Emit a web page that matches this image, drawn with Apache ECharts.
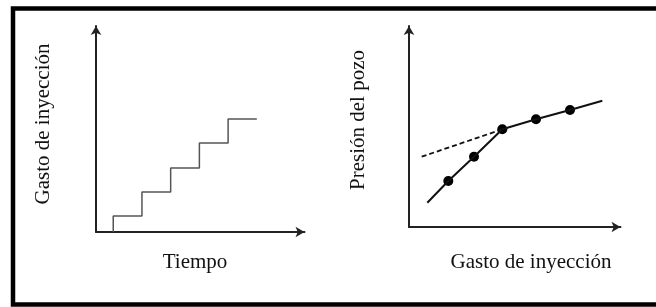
<!DOCTYPE html>
<html>
<head>
<meta charset="utf-8">
<script src="https://cdn.jsdelivr.net/npm/echarts@6/dist/echarts.min.js"></script>
<style>
html,body{margin:0;padding:0;background:#fff;}
#chart{width:656px;height:307px;}
</style>
</head>
<body>
<div id="chart"></div>
<script>
// Left panel: injection rate steps over time
const tiempo = [0.6, 1.6, 2.6, 3.6, 4.6, 5.6];
const gastoEscalon = [0, 0.66, 1.65, 2.63, 3.66, 4.65];
// Right panel: well pressure vs injection rate
const gastoLinea = [1.83, 3.93, 6.5, 9.33, 12.7, 16.1, 19.33];
const presionLinea = [2.43, 4.6, 7.03, 9.77, 10.77, 11.7, 12.63];
const gastoPuntos = [3.93, 6.5, 9.33, 12.7, 16.1];
const presionPuntos = [4.6, 7.03, 9.77, 10.77, 11.7];
const gastoExtrap = [1.27, 9.33];
const presionExtrap = [7.03, 9.77];
// Labels
const labels = {
  leftY: 'Gasto de inyección',
  leftX: 'Tiempo',
  rightY: 'Presión del pozo',
  rightX: 'Gasto de inyección'
};

const zip = (a, b) => a.map((v, i) => [v, b[i]]);
const font = '"Liberation Serif", "Times New Roman", serif';

const axisCommon = {
  type: 'value',
  axisLine: { show: true, symbol: ['none', 'arrow'], symbolSize: [8, 9], lineStyle: { color: '#222', width: 2 } },
  axisTick: { show: false },
  axisLabel: { show: false },
  splitLine: { show: false }
};

const chart = echarts.init(document.getElementById('chart'));
chart.setOption({
  animation: false,
  backgroundColor: '#fff',
  grid: [
    { left: 96, top: 26, width: 208.5, height: 206 },
    { left: 409, top: 26, width: 211.5, height: 201 }
  ],
  xAxis: [
    Object.assign({ gridIndex: 0, min: 0, max: 7.26 }, axisCommon),
    Object.assign({ gridIndex: 1, min: 0, max: 21.15 }, axisCommon)
  ],
  yAxis: [
    Object.assign({ gridIndex: 0, min: 0, max: 8.48 }, axisCommon),
    Object.assign({ gridIndex: 1, min: 0, max: 20.1 }, axisCommon)
  ],
  series: [
    {
      type: 'line', xAxisIndex: 0, yAxisIndex: 0, step: 'start',
      data: zip(tiempo, gastoEscalon), showSymbol: false,
      lineStyle: { color: '#555', width: 1.5 }
    },
    {
      type: 'line', xAxisIndex: 1, yAxisIndex: 1,
      data: zip(gastoExtrap, presionExtrap), showSymbol: false,
      lineStyle: { color: '#111', width: 1.8, type: [5, 3] }
    },
    {
      type: 'line', xAxisIndex: 1, yAxisIndex: 1,
      data: zip(gastoLinea, presionLinea), showSymbol: false,
      lineStyle: { color: '#111', width: 2 }
    },
    {
      type: 'scatter', xAxisIndex: 1, yAxisIndex: 1,
      data: zip(gastoPuntos, presionPuntos), symbol: 'circle', symbolSize: 10,
      itemStyle: { color: '#000', opacity: 1 }
    }
  ],
  graphic: [
    { type: 'rect', shape: { x: 13, y: 8.5, width: 660, height: 296 }, style: { fill: 'none', stroke: '#000', lineWidth: 4.5 } },
    { type: 'text', x: 43, y: 124, rotation: Math.PI / 2, style: { text: labels.leftY, font: '21px ' + font, fill: '#111', align: 'center', verticalAlign: 'middle' } },
    { type: 'text', x: 195, y: 262, style: { text: labels.leftX, font: '21px ' + font, fill: '#111', align: 'center', verticalAlign: 'middle' } },
    { type: 'text', x: 358, y: 120, rotation: Math.PI / 2, style: { text: labels.rightY, font: '21px ' + font, fill: '#111', align: 'center', verticalAlign: 'middle' } },
    { type: 'text', x: 531, y: 262, style: { text: labels.rightX, font: '21px ' + font, fill: '#111', align: 'center', verticalAlign: 'middle' } }
  ]
});
</script>
</body>
</html>
